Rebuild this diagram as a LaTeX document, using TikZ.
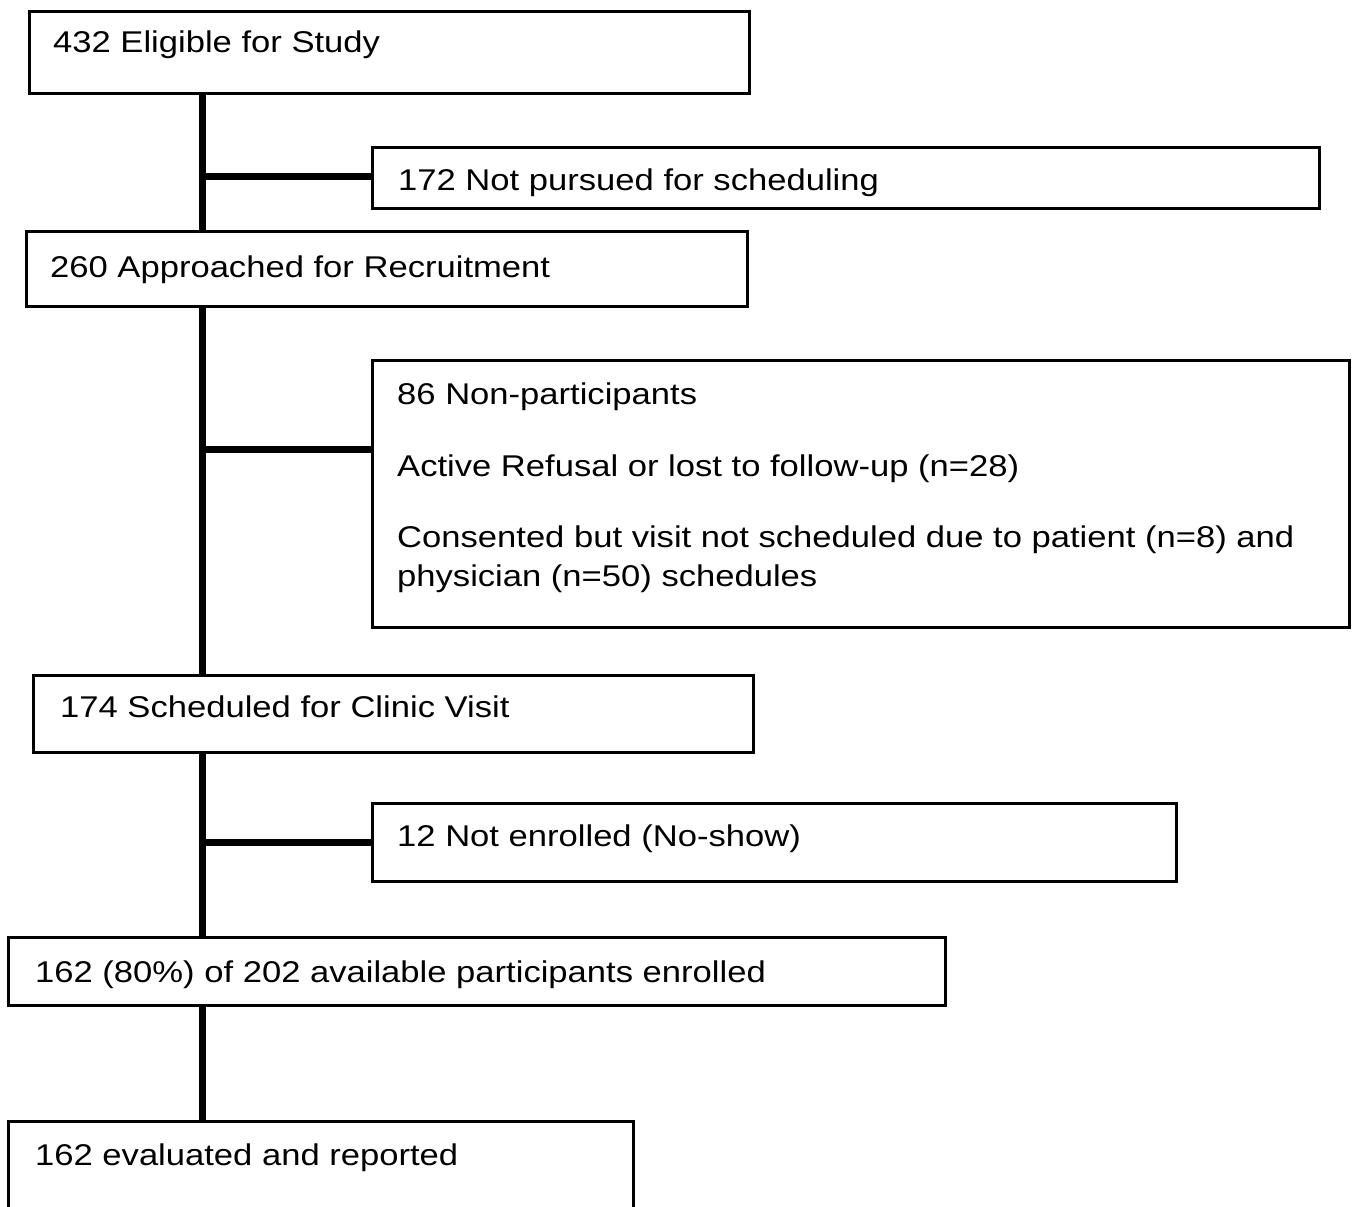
\documentclass[tikz,border=0pt]{standalone}
\usepackage{fontspec}
\setmainfont{Liberation Sans}[FakeStretch=1.153]
\begin{document}
\begin{tikzpicture}[x=1pt,y=-1pt,
  box/.style={draw, line width=2.6pt, inner sep=0pt, anchor=north west},
  lbl/.style={anchor=base west, inner sep=0pt, font=\fontsize{30}{36}\selectfont},
  link/.style={line width=7pt}]
\useasboundingbox (0,0) rectangle (1352,1207);
\clip (0,0) rectangle (1352,1207);
% boxes
\node[box, minimum width=720pt, minimum height=82pt] (b1) at (28,10) {};
\node[box, minimum width=947pt, minimum height=61pt] (s1) at (371,146) {};
\node[box, minimum width=721pt, minimum height=75pt] (b2) at (25,230) {};
\node[box, minimum width=977pt, minimum height=267pt] (s2) at (371,359) {};
\node[box, minimum width=720pt, minimum height=77pt] (b3) at (32,674) {};
\node[box, minimum width=804pt, minimum height=78pt] (s3) at (371,802) {};
\node[box, minimum width=937pt, minimum height=68pt] (b4) at (7,936) {};
\node[box, minimum width=625pt, minimum height=140pt] (b5) at (7,1120) {};
% texts
\node[lbl] (t1) at (53,53) {432 Eligible for Study};
\node[lbl] (t2) at (398,190) {172 Not pursued for scheduling};
\node[lbl] (t3) at (50,277) {260 Approached for Recruitment};
\node[lbl] (t4a) at (397,404) {86 Non-participants};
\node[lbl] (t4b) at (397,476) {Active Refusal or lost to follow-up (n=28)};
\node[lbl] (t4c) at (397,547) {Consented but visit not scheduled due to patient (n=8) and};
\node[lbl] (t4d) at (397,586) {physician (n=50) schedules};
\node[lbl] (t5) at (60,717) {174 Scheduled for Clinic Visit};
\node[lbl] (t6) at (397,846) {12 Not enrolled (No-show)};
\node[lbl] (t7) at (35,982) {162 (80\%) of 202 available participants enrolled};
\node[lbl] (t8) at (35,1165) {162 evaluated and reported};
% trunk
\coordinate (tr) at (202,0);
\coordinate (j1) at (202,176.5);
\coordinate (j2) at (202,449);
\draw[link] (b1.south -| tr) -- (b2.north -| tr);
\draw[link] (b2.south -| tr) -- (b3.north -| tr);
\draw[link] (b3.south -| tr) -- (b4.north -| tr);
\draw[link] (b4.south -| tr) -- (b5.north -| tr);
% branches
\draw[link] (j1) -- (s1.west |- j1);
\draw[link] (j2) -- (s2.west |- j2);
\draw[link] (s3.west -| tr) -- (s3.west);
\end{tikzpicture}
\end{document}
